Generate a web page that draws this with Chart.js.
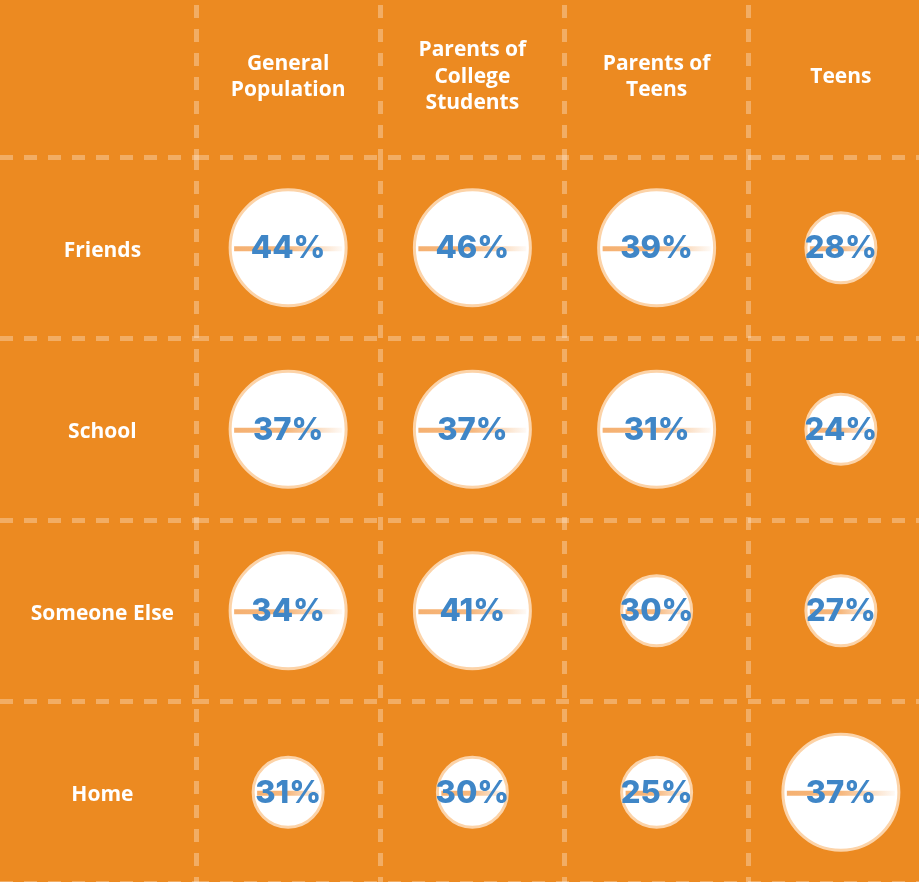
<!DOCTYPE html>
<html>
<head>
<meta charset="utf-8">
<script src="https://cdn.jsdelivr.net/npm/chart.js@4/dist/chart.umd.min.js"></script>
<style>
    html, body { margin: 0; padding: 0; background: #ec8a21; overflow: hidden; }
    canvas { display: block; }
</style>
</head>
<body>
<canvas id="burbujasChart" width="933" height="883"></canvas>
<script>
// columnas (cabecera) y filas
const columnas = ["General Population", "Parents of College Students", "Parents of Teens", "Teens"];
const columnasCabecera = [["General", "Population"], ["Parents of", "College", "Students"], ["Parents of", "Teens"], ["Teens"]]; // como se parte el texto en la cabecera
const filas = ["Friends", "School", "Someone Else", "Home"];

// porcentajes por fila, en el orden de las columnas
const friends = [44, 46, 39, 28];
const school = [37, 37, 31, 24];
const someoneElse = [34, 41, 30, 27];
const home = [31, 30, 25, 37];

// que burbujas salen grandes en el original
const grandesFriends = [true, true, true, false];
const grandesSchool = [true, true, true, false];
const grandesSomeoneElse = [true, true, false, false];
const grandesHome = [false, false, false, true];

const valores = [friends, school, someoneElse, home];
const grandes = [grandesFriends, grandesSchool, grandesSomeoneElse, grandesHome];

const colorLinea = "rgba(255, 255, 255, 0.3)";
const azul = "#3f86c7";

const puntos = [];
valores.forEach((fila, i) => {
    fila.forEach((v, j) => {
        puntos.push({ x: columnas[j], y: filas[i], r: grandes[i][j] ? 58 : 35, v: v });
    });
});

// dibuja la raya naranja y el porcentaje dentro de cada burbuja
const etiquetasPlugin = {
    id: "etiquetas",
    afterDatasetsDraw(chart) {
        const ctx = chart.ctx;
        const meta = chart.getDatasetMeta(0);
        meta.data.forEach((el, idx) => {
            const p = chart.data.datasets[0].data[idx];
            const r = el.options.radius;
            ctx.save();
            const g = ctx.createLinearGradient(el.x - r, 0, el.x + r, 0);
            g.addColorStop(0, "rgba(245, 176, 112, 1)");
            g.addColorStop(0.5, "rgba(245, 176, 112, 0.9)");
            g.addColorStop(1, "rgba(245, 176, 112, 0)");
            ctx.strokeStyle = g;
            ctx.lineWidth = 5;
            ctx.beginPath();
            ctx.moveTo(el.x - r + 4, el.y + 1);
            ctx.lineTo(el.x + r - 4, el.y + 1);
            ctx.stroke();
            ctx.fillStyle = azul;
            ctx.font = "800 31px Inter";
            ctx.textAlign = "center";
            ctx.textBaseline = "middle";
            ctx.fillText(p.v + "%", el.x, el.y + 1);
            ctx.restore();
        });
    }
};

const burbujasChart = new Chart(document.getElementById("burbujasChart"), {
    type: "bubble",
    data: {
        datasets: [{
            data: puntos,
            backgroundColor: "#ffffff",
            borderColor: "#fcd3a8",
            borderWidth: 3,
            hoverRadius: 0,
            hoverBorderWidth: 3
        }]
    },
    options: {
        responsive: false,
        animation: false,
        layout: { padding: 0, autoPadding: false },
        plugins: {
            legend: { display: false },
            tooltip: { enabled: false }
        },
        scales: {
            x: {
                type: "category",
                labels: columnas,
                position: "top",
                offset: true,
                grid: {
                    offset: true,
                    color: colorLinea,
                    lineWidth: 5,
                    tickLength: 152,
                    tickColor: colorLinea,
                    tickWidth: 5,
                    tickBorderDash: [13, 11]
                },
                border: { display: false, dash: [13, 11] },
                ticks: {
                    color: "#ffffff",
                    font: { family: "Open Sans", weight: "bold", size: 21, lineHeight: 1.25 },
                    crossAlign: "center",
                    maxRotation: 0,
                    autoSkip: false,
                    padding: -98,
                    callback: (val, i) => columnasCabecera[i]
                },
                afterFit: (scale) => { scale.height = 157; }
            },
            y: {
                type: "category",
                labels: filas,
                offset: true,
                grid: {
                    offset: true,
                    color: colorLinea,
                    lineWidth: 5,
                    tickLength: 196,
                    tickColor: colorLinea,
                    tickWidth: 5,
                    tickBorderDash: [13, 11]
                },
                border: { display: false, dash: [13, 11] },
                ticks: {
                    color: "#ffffff",
                    font: { family: "Open Sans", weight: "bold", size: 21 },
                    crossAlign: "center",
                    autoSkip: false,
                    labelOffset: 3,
                    padding: -174
                },
                afterFit: (scale) => { scale.width = 196; }
            }
        }
    },
    plugins: [etiquetasPlugin]
});
</script>
</body>
</html>
